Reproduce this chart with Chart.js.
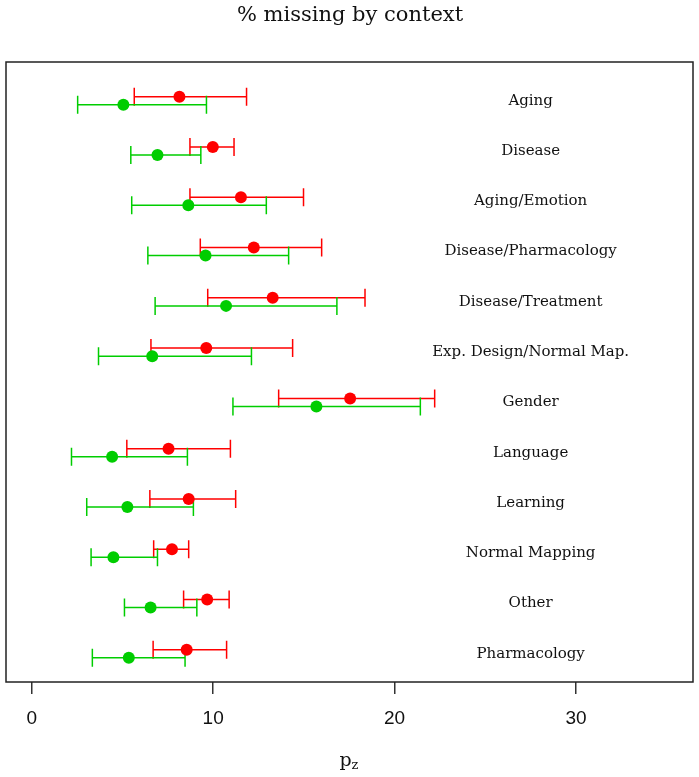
<!DOCTYPE html>
<html>
<head>
<meta charset="utf-8">
<script src="https://cdn.jsdelivr.net/npm/chart.js@4"></script>
<style>
  html, body { margin: 0; padding: 0; background: #fff; overflow: hidden; }
  canvas { display: block; }
</style>
</head>
<body>
<canvas id="c" width="699" height="777"></canvas>
<script>
// contexts, top to bottom
const contexts = ['Aging', 'Disease', 'Aging/Emotion', 'Disease/Pharmacology', 'Disease/Treatment',
  'Exp. Design/Normal Map.', 'Gender', 'Language', 'Learning', 'Normal Mapping', 'Other', 'Pharmacology'];

// red series (estimate + interval)
const redMean = [8.14, 9.98, 11.53, 12.24, 13.28, 9.62, 17.55, 7.54, 8.65, 7.73, 9.67, 8.54];
const redLow  = [5.65, 8.72, 8.72, 9.29, 9.70, 6.57, 13.61, 5.24, 6.51, 6.72, 8.37, 6.69];
const redHigh = [11.84, 11.15, 14.98, 15.98, 18.37, 14.38, 22.21, 10.95, 11.24, 8.65, 10.88, 10.74];

// green series
const greenMean = [5.05, 6.93, 8.63, 9.58, 10.71, 6.64, 15.69, 4.43, 5.27, 4.50, 6.55, 5.35];
const greenLow  = [2.53, 5.46, 5.51, 6.40, 6.80, 3.68, 11.09, 2.19, 3.03, 3.27, 5.11, 3.34];
const greenHigh = [9.63, 9.32, 12.93, 14.16, 16.82, 12.11, 21.42, 8.58, 8.91, 6.93, 9.10, 8.45];

const xTicks = [0, 10, 20, 30];

const RED = '#FF0000';
const GREEN = '#00CD00';
const OFF = 0.08;      // vertical offset of the two series within a row
const LABEL_X = 27.5;  // x value where context labels are centred

const serif = '"DejaVu Serif", serif';

function pts(vals, dy) {
  return vals.map((v, i) => ({ x: v, y: i + dy }));
}

// error bars + labels + box
const extras = {
  id: 'extras',
  beforeDatasetsDraw(chart) {
    const { ctx, scales: { x, y } } = chart;
    const cap = 9;
    const bars = [
      [redLow, redHigh, -OFF, RED],
      [greenLow, greenHigh, OFF, GREEN]
    ];
    ctx.save();
    ctx.lineWidth = 1.5;
    bars.forEach(([lo, hi, dy, col]) => {
      ctx.strokeStyle = col;
      lo.forEach((l, i) => {
        const py = y.getPixelForValue(i + dy);
        const x1 = x.getPixelForValue(l);
        const x2 = x.getPixelForValue(hi[i]);
        ctx.beginPath();
        ctx.moveTo(x1, py); ctx.lineTo(x2, py);
        ctx.moveTo(x1, py - cap); ctx.lineTo(x1, py + cap);
        ctx.moveTo(x2, py - cap); ctx.lineTo(x2, py + cap);
        ctx.stroke();
      });
    });
    ctx.restore();
  },
  afterDraw(chart) {
    const { ctx, chartArea: a, scales: { x, y } } = chart;
    ctx.save();
    // context labels
    ctx.fillStyle = '#111';
    ctx.font = '15px ' + serif;
    ctx.textAlign = 'center';
    ctx.textBaseline = 'middle';
    contexts.forEach((c, i) => {
      ctx.fillText(c, x.getPixelForValue(LABEL_X), y.getPixelForValue(i));
    });
    // box
    ctx.strokeStyle = '#222';
    ctx.lineWidth = 1.5;
    ctx.strokeRect(a.left, a.top, a.right - a.left, a.bottom - a.top);
    // axis title p_z
    const cx = (a.left + a.right) / 2;
    ctx.textAlign = 'left';
    ctx.textBaseline = 'alphabetic';
    ctx.font = '19px ' + serif;
    const pw = ctx.measureText('p').width;
    ctx.fillText('p', cx - pw / 2 - 4, 766);
    ctx.font = '13px ' + serif;
    ctx.fillText('z', cx + pw / 2 - 4, 769);
    ctx.restore();
  }
};

new Chart(document.getElementById('c'), {
  type: 'scatter',
  data: {
    datasets: [
      { label: 'red', data: pts(redMean, -OFF), backgroundColor: RED, borderWidth: 0, pointRadius: 6, pointHoverRadius: 6 },
      { label: 'green', data: pts(greenMean, OFF), backgroundColor: GREEN, borderWidth: 0, pointRadius: 6, pointHoverRadius: 6 }
    ]
  },
  options: {
    responsive: false,
    animation: false,
    devicePixelRatio: 1,
    layout: { padding: { left: 4, right: 3, top: 0, bottom: 0 } },
    plugins: {
      legend: { display: false },
      tooltip: { enabled: false },
      title: {
        display: true,
        text: '% missing by context',
        color: '#111',
        font: { family: serif, size: 21, weight: 'normal' },
        padding: { top: 3, bottom: 33.8 }
      }
    },
    scales: {
      x: {
        type: 'linear',
        min: -1.42,
        max: 36.45,
        afterBuildTicks(s) { s.ticks = xTicks.map(v => ({ value: v })); },
        afterFit(s) { s.height = 95; },
        border: { display: false },
        grid: { drawOnChartArea: false, drawTicks: true, tickLength: 12, color: '#333', lineWidth: 1.5 },
        ticks: { color: '#111', padding: 13, maxRotation: 0, font: { family: '"Liberation Sans", sans-serif', size: 19 } }
      },
      y: {
        type: 'linear',
        reverse: true,
        min: -0.77,
        max: 11.56,
        display: false
      }
    }
  },
  plugins: [extras]
});
</script>
</body>
</html>
